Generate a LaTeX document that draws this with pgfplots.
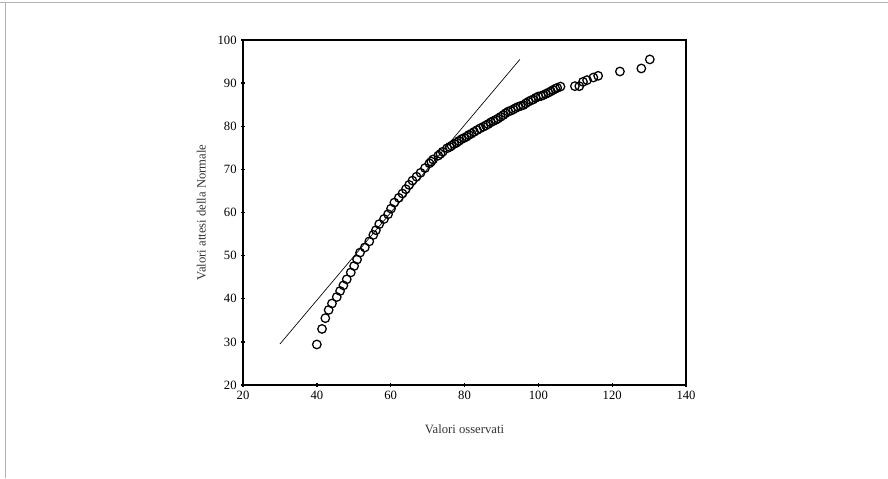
\documentclass[border=0pt]{standalone}
\usepackage{fontspec}
\setmainfont{Liberation Serif}
\usepackage{pgfplots}
\pgfplotsset{compat=1.18}
\begin{document}
\begin{tikzpicture}[x=0.75pt,y=0.75pt]
\useasboundingbox (0,0) rectangle (888,478);
\draw[gray!60, line width=0.6pt] (0,476) -- (888,476);
\draw[gray!60, line width=0.6pt] (5,476) -- (5,0);
\begin{axis}[
  at={(182.25pt,69.75pt)}, anchor=south west,
  scale only axis, width=332.25pt, height=258.75pt,
  xmin=20, xmax=140, ymin=20, ymax=100,
  xtick={20,40,...,140}, ytick={20,30,...,100},
  xtick pos=bottom, ytick pos=left,
  tick align=center, major tick length=2.5pt,
  tick style={black, line width=1pt},
  axis line style={black, line width=0.8pt},
  ticklabel style={font=\fontsize{9.5}{10}\selectfont},
  /pgf/number format/assume math mode=true,
  xlabel={Valori osservati}, ylabel={Valori attesi della Normale},
  label style={font=\fontsize{9.5}{11}\selectfont, text=black!80},
  xlabel style={yshift=-12pt},
  ylabel style={yshift=2pt},
]
\addplot[black, line width=0.5pt] coordinates {(30,29.5) (95,95.5)};
\addplot[only marks, mark=o, mark size=3.2pt, mark options={line width=0.95pt, black}] coordinates {
(40.0,29.4) (41.4,33.0) (42.3,35.5) (43.2,37.4) (44.1,38.9) (45.4,40.4)
(46.3,41.8) (47.2,43.1) (48.1,44.5) (49.2,46.1) (50.1,47.6) (50.9,49.1)
(51.7,50.7) (53.0,51.9) (54.2,53.3) (55.3,54.8) (56.0,55.9) (56.9,57.3)
(58.2,58.5) (59.3,59.6) (60.1,60.9) (61.0,62.3) (62.2,63.4) (63.2,64.4)
(64.1,65.4) (65.0,66.4) (65.9,67.4) (67.0,68.3) (68.1,69.2) (69.3,70.3)
(70.5,71.4) (71.0,71.8) (71.5,72.3) (72.9,73.2) (73.5,73.6) (74.1,74.1)
(75.3,74.9) (76.0,75.2) (76.5,75.5) (77.2,75.9) (77.9,76.2) (78.5,76.6)
(79.2,77.0) (79.9,77.3) (80.6,77.6) (81.2,78.0) (81.9,78.3) (82.6,78.7)
(83.4,79.1) (84.2,79.5) (85.1,79.9) (85.8,80.2) (86.4,80.5) (87.1,80.9)
(87.8,81.2) (88.5,81.5) (89.1,81.8) (89.8,82.2) (90.5,82.6) (91.1,83.0)
(91.8,83.4) (92.5,83.6) (93.2,83.9) (93.8,84.2) (94.5,84.5) (95.2,84.7)
(95.9,84.9) (96.6,85.3) (97.3,85.7) (98.0,86.0) (98.6,86.2) (99.3,86.6)
(100.0,86.9) (100.7,87.0) (101.3,87.2) (102.0,87.5) (102.7,87.8) (103.4,88.1)
(104.0,88.4) (104.6,88.7) (105.1,88.9) (106.0,89.2)
(109.9,89.3) (111.1,89.3) (112.1,90.3) (113.2,90.7) (114.9,91.3) (116.2,91.7)
(122.1,92.7) (127.9,93.4) (130.2,95.5)
};
\end{axis}
\end{tikzpicture}
\end{document}
